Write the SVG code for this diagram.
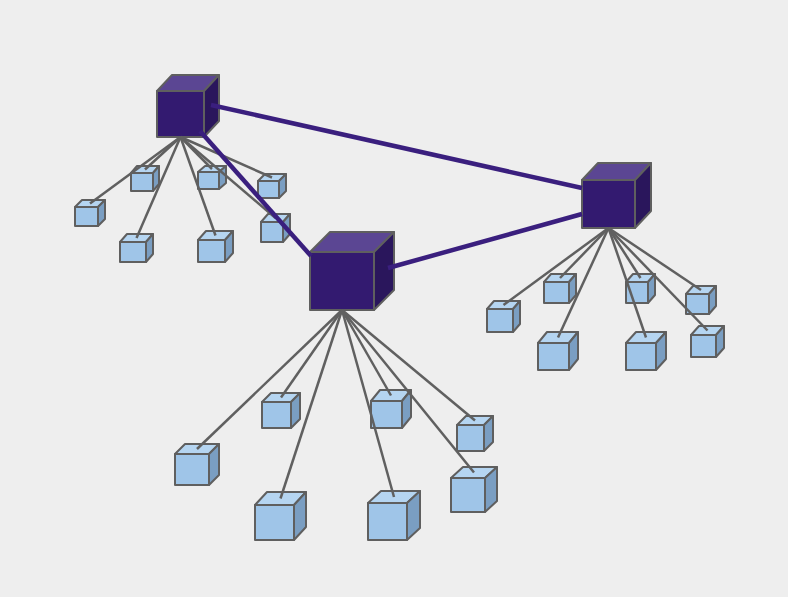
<svg xmlns="http://www.w3.org/2000/svg" width="788" height="597" viewBox="0 0 788 597">
<style>
.lf{fill:#9fc5e8;stroke:#5f5f5f;stroke-width:2;stroke-linejoin:round}
.lt{fill:#b5d5f1;stroke:#5f5f5f;stroke-width:2;stroke-linejoin:round}
.ls{fill:#7a9ec2;stroke:#5f5f5f;stroke-width:2;stroke-linejoin:round}
.hf{fill:#331a70;stroke:#5f5f5f;stroke-width:2;stroke-linejoin:round}
.ht{fill:#5b4693;stroke:#5f5f5f;stroke-width:2;stroke-linejoin:round}
.hs{fill:#2a165c;stroke:#5f5f5f;stroke-width:2;stroke-linejoin:round}
.e{stroke:#606060;stroke-width:2.5;fill:none}
.p{stroke:#3a1f7e;stroke-width:4.5;fill:none;stroke-linecap:butt}
</style>
<rect x="0" y="0" width="788" height="597" fill="#eeeeee"/>
<g id="nodes">
<!-- top-left leaves -->
<g id="L1"><polygon class="lt" points="75,207 82,200 105,200 98,207"/><polygon class="ls" points="98,207 105,200 105,219 98,226"/><rect class="lf" x="75" y="207" width="23" height="19"/></g>
<g id="L2"><polygon class="lt" points="131,173 137,166 159,166 153,173"/><polygon class="ls" points="153,173 159,166 159,184 153,191"/><rect class="lf" x="131" y="173" width="22" height="18"/></g>
<g id="L3"><polygon class="lt" points="120,242 127,234 153,234 146,242"/><polygon class="ls" points="146,242 153,234 153,254 146,262"/><rect class="lf" x="120" y="242" width="26" height="20"/></g>
<g id="L4"><polygon class="lt" points="198,172 205,166 226,166 219,172"/><polygon class="ls" points="219,172 226,166 226,183 219,189"/><rect class="lf" x="198" y="172" width="21" height="17"/></g>
<g id="L5"><polygon class="lt" points="198,240 206,231 233,231 225,240"/><polygon class="ls" points="225,240 233,231 233,253 225,262"/><rect class="lf" x="198" y="240" width="27" height="22"/></g>
<g id="L6"><polygon class="lt" points="258,181 265,174 286,174 279,181"/><polygon class="ls" points="279,181 286,174 286,191 279,198"/><rect class="lf" x="258" y="181" width="21" height="17"/></g>
<g id="L7"><polygon class="lt" points="261,222 268,214 290,214 283,222"/><polygon class="ls" points="283,222 290,214 290,234 283,242"/><rect class="lf" x="261" y="222" width="22" height="20"/></g>
<!-- right leaves -->
<g id="R1"><polygon class="lt" points="487,309 494,301 520,301 513,309"/><polygon class="ls" points="513,309 520,301 520,324 513,332"/><rect class="lf" x="487" y="309" width="26" height="23"/></g>
<g id="R2"><polygon class="lt" points="544,282 551,274 576,274 569,282"/><polygon class="ls" points="569,282 576,274 576,295 569,303"/><rect class="lf" x="544" y="282" width="25" height="21"/></g>
<g id="R3"><polygon class="lt" points="538,343 547,332 578,332 569,343"/><polygon class="ls" points="569,343 578,332 578,359 569,370"/><rect class="lf" x="538" y="343" width="31" height="27"/></g>
<g id="R4"><polygon class="lt" points="626,282 633,274 655,274 648,282"/><polygon class="ls" points="648,282 655,274 655,295 648,303"/><rect class="lf" x="626" y="282" width="22" height="21"/></g>
<g id="R5"><polygon class="lt" points="626,343 636,332 666,332 656,343"/><polygon class="ls" points="656,343 666,332 666,359 656,370"/><rect class="lf" x="626" y="343" width="30" height="27"/></g>
<g id="R6"><polygon class="lt" points="686,294 693,286 716,286 709,294"/><polygon class="ls" points="709,294 716,286 716,306 709,314"/><rect class="lf" x="686" y="294" width="23" height="20"/></g>
<g id="R7"><polygon class="lt" points="691,335 699,326 724,326 716,335"/><polygon class="ls" points="716,335 724,326 724,348 716,357"/><rect class="lf" x="691" y="335" width="25" height="22"/></g>
<!-- bottom leaves -->
<g id="B1"><polygon class="lt" points="175,454 185,444 219,444 209,454"/><polygon class="ls" points="209,454 219,444 219,475 209,485"/><rect class="lf" x="175" y="454" width="34" height="31"/></g>
<g id="B2"><polygon class="lt" points="262,402 271,393 300,393 291,402"/><polygon class="ls" points="291,402 300,393 300,419 291,428"/><rect class="lf" x="262" y="402" width="29" height="26"/></g>
<g id="B3"><polygon class="lt" points="255,505 267,492 306,492 294,505"/><polygon class="ls" points="294,505 306,492 306,527 294,540"/><rect class="lf" x="255" y="505" width="39" height="35"/></g>
<g id="B4"><polygon class="lt" points="371,401 380,390 411,390 402,401"/><polygon class="ls" points="402,401 411,390 411,417 402,428"/><rect class="lf" x="371" y="401" width="31" height="27"/></g>
<g id="B5"><polygon class="lt" points="368,503 381,491 420,491 407,503"/><polygon class="ls" points="407,503 420,491 420,528 407,540"/><rect class="lf" x="368" y="503" width="39" height="37"/></g>
<g id="B6"><polygon class="lt" points="457,425 466,416 493,416 484,425"/><polygon class="ls" points="484,425 493,416 493,442 484,451"/><rect class="lf" x="457" y="425" width="27" height="26"/></g>
<g id="B7"><polygon class="lt" points="451,478 463,467 497,467 485,478"/><polygon class="ls" points="485,478 497,467 497,501 485,512"/><rect class="lf" x="451" y="478" width="34" height="34"/></g>
<!-- hubs -->
<g id="H1"><polygon class="ht" points="157,91 172,75 219,75 204,91"/><polygon class="hs" points="204,91 219,75 219,121 204,137"/><rect class="hf" x="157" y="91" width="47" height="46"/></g>
<g id="H2"><polygon class="ht" points="310,252 330,232 394,232 374,252"/><polygon class="hs" points="374,252 394,232 394,290 374,310"/><rect class="hf" x="310" y="252" width="64" height="58"/></g>
<g id="H3"><polygon class="ht" points="582,180 598,163 651,163 635,180"/><polygon class="hs" points="635,180 651,163 651,211 635,228"/><rect class="hf" x="582" y="180" width="53" height="48"/></g>
</g>
<g id="connectors">
<line class="e" x1="180.5" y1="137" x2="90" y2="203.5"/>
<line class="e" x1="180.5" y1="137" x2="145" y2="169.5"/>
<line class="e" x1="180.5" y1="137" x2="136.5" y2="238"/>
<line class="e" x1="180.5" y1="137" x2="212" y2="169"/>
<line class="e" x1="180.5" y1="137" x2="215.5" y2="235.5"/>
<line class="e" x1="180.5" y1="137" x2="272" y2="177.5"/>
<line class="e" x1="180.5" y1="137" x2="275.5" y2="218"/>
<line class="e" x1="608.5" y1="228" x2="503.5" y2="305"/>
<line class="e" x1="608.5" y1="228" x2="560" y2="278"/>
<line class="e" x1="608.5" y1="228" x2="558" y2="337.5"/>
<line class="e" x1="608.5" y1="228" x2="640.5" y2="278"/>
<line class="e" x1="608.5" y1="228" x2="646" y2="337.5"/>
<line class="e" x1="608.5" y1="228" x2="701" y2="290"/>
<line class="e" x1="608.5" y1="228" x2="707.5" y2="330.5"/>
<line class="e" x1="342" y1="310" x2="197" y2="449"/>
<line class="e" x1="342" y1="310" x2="281" y2="397.5"/>
<line class="e" x1="342" y1="310" x2="280.5" y2="498.5"/>
<line class="e" x1="342" y1="310" x2="391" y2="395.5"/>
<line class="e" x1="342" y1="310" x2="394" y2="497"/>
<line class="e" x1="342" y1="310" x2="475" y2="420.5"/>
<line class="e" x1="342" y1="310" x2="474" y2="472.5"/>
<line class="p" x1="211" y1="105" x2="582" y2="188"/>
<line class="p" x1="200" y1="131" x2="311" y2="256"/>
<line class="p" x1="388" y1="268" x2="582" y2="214"/>
</g>
</svg>
